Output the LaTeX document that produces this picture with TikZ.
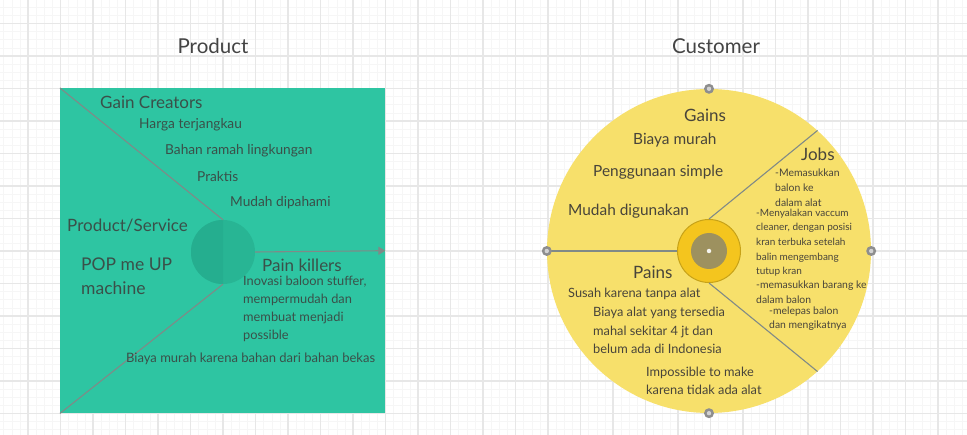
\documentclass[tikz,border=0pt]{standalone}
\usepackage{fontspec}
\setmainfont{Lato}
\usepackage{tikz}
\usetikzlibrary{arrows.meta,positioning,calc}
\definecolor{gridminor}{HTML}{F6F6F6}
\definecolor{gridmajor}{HTML}{E7E7E7}
\definecolor{titlegray}{HTML}{444444}
\definecolor{canvasgreen}{HTML}{2EC5A2}
\definecolor{offercore}{HTML}{28B594}
\definecolor{offerdark}{HTML}{25AE8F}
\definecolor{greentext}{HTML}{3A5049}
\definecolor{linegray}{HTML}{808A87}
\definecolor{custyellow}{HTML}{F7E06B}
\definecolor{ringgold}{HTML}{F4C51E}
\definecolor{ringedge}{HTML}{C7A218}
\definecolor{coreolive}{HTML}{9D915F}
\definecolor{yellowtext}{HTML}{48443A}
\definecolor{handlegray}{HTML}{8E8E8E}
\definecolor{handlecore}{HTML}{D2D2D2}

\begin{document}
\begin{tikzpicture}[x=1pt,y=-1pt,>=Stealth,
  title/.style={font=\fontsize{20.5}{24}\selectfont,text=titlegray},
  head/.style={font=\fontsize{17}{20}\selectfont,inner sep=0pt,anchor=west},
  item/.style={font=\fontsize{12.8}{18}\selectfont,inner sep=0pt,anchor=west},
  itemblock/.style={item,align=left,anchor=base west},
  jobblock/.style={font=\fontsize{10.4}{14.6}\selectfont,inner sep=0pt,align=left,anchor=base west,text=yellowtext},
  link/.style={draw=linegray,line width=1.1pt},
  handle/.style={circle,fill=handlegray,minimum size=10pt,inner sep=0pt,
    path picture={\fill[handlecore] (path picture bounding box.center) circle[radius=2.2pt];}}]
  % canvas grid
  \useasboundingbox (0,0) rectangle (967,435);
  \fill[white] (0,0) rectangle (967,435);
  \foreach \i in {0,...,120} \draw[gridminor,line width=0.5pt] ({-4.5+8.125*\i},0) -- ++(0,435);
  \foreach \j in {0,...,55} \draw[gridminor,line width=0.5pt] (0,{-9+8.125*\j}) -- ++(967,0);
  \foreach \i in {0,...,30} \draw[gridmajor,line width=1.3pt] ({-4.5+32.5*\i},0) -- ++(0,435);
  \foreach \j in {0,...,14} \draw[gridmajor,line width=1.3pt] (0,{-9+32.5*\j}) -- ++(967,0);

  \node[title] (prodtitle) at (213,46) {Product};
  \node[title] (custtitle) at (716,46) {Customer};

  % value map
  \node[fill=canvasgreen,minimum size=325pt,inner sep=0pt,anchor=north west] (canvas) at (60,88) {};
  \node[circle,fill=offercore,minimum size=64pt,inner sep=0pt] (offer) at (223,252) {};
  \begin{scope}
    \clip (offer.north) rectangle ($(offer.south)+(-40,0)$);
    \fill[offerdark] (offer.center) circle[radius=32];
  \end{scope}
  \draw[link] (canvas.north west) -- (offer.north);
  \draw[link] (canvas.south west) -- (offer.south);
  \draw[link,-{Triangle[length=7pt,width=8pt]}] (offer.east) -- (canvas.east);

  \begin{scope}[text=greentext]
    \node[head] (gaincr) at (100,102) {Gain Creators};
    \node[item,font=\fontsize{13.7}{18}\selectfont] (harga) at (139,125) {Harga terjangkau};
    \node[item,font=\fontsize{13.7}{18}\selectfont] (bahan) at (165,151) {Bahan ramah lingkungan};
    \node[item,font=\fontsize{13.7}{18}\selectfont] (praktis) at (197,177) {Praktis};
    \node[item,font=\fontsize{13.7}{18}\selectfont] (mudah) at (230,203) {Mudah dipahami};
    \node[head] (prodsvc) at (67,226) {Product/Service};
    \node[head,align=left,anchor=base west,font=\fontsize{17.5}{24}\selectfont] (popme) at (81,295) {POP me UP\\machine};
    \node[head] (painkill) at (262,265) {Pain killers};
    \node[itemblock] (inovasi) at (243,340) {Inovasi baloon stuffer,\\mempermudah dan\\membuat menjadi\\possible};
    \node[item,font=\fontsize{13}{18}\selectfont] (murahbekas) at (126,359) {Biaya murah karena bahan dari bahan bekas};
  \end{scope}

  % customer profile
  \node[circle,fill=custyellow,minimum size=324pt,inner sep=0pt] (profile) at (709,251) {};
  \node[circle,fill=ringgold,draw=ringedge,line width=1pt,minimum size=63pt,inner sep=0pt] (fit) at (709,251) {};
  \node[circle,fill=coreolive,minimum size=36pt,inner sep=0pt] (core) at (fit) {};
  \node[circle,fill=white!90!coreolive,minimum size=4.5pt,inner sep=0pt] (pin) at (fit) {};
  \draw[link] (profile.west) -- (fit.west);
  \draw[link] (fit.north) -- (profile.48);
  \draw[link] (fit.south) -- (profile.-48);
  \node[handle] (htop) at (profile.north) {};
  \node[handle] (hleft) at (profile.west) {};
  \node[handle] (hright) at (profile.east) {};
  \node[handle] (hbottom) at (profile.south) {};

  \begin{scope}[text=yellowtext]
    \node[head] (gains) at (684,115) {Gains};
    \node[head,font=\fontsize{15.4}{18}\selectfont] (biayamurah) at (633,140) {Biaya murah};
    \node[head,font=\fontsize{15.4}{18}\selectfont] (simple) at (593,172) {Penggunaan simple};
    \node[head,font=\fontsize{15.4}{18}\selectfont] (digunakan) at (568,211) {Mudah digunakan};
    \node[head] (jobs) at (801,154) {Jobs};
    \node[jobblock] (job1) at (775,206.2) {-Memasukkan\\balon ke\\dalam alat};
    \node[jobblock,font=\fontsize{10}{14.7}\selectfont] (job2) at (756,275) {-Menyalakan vaccum\\cleaner, dengan posisi\\kran terbuka setelah\\balin mengembang\\tutup kran};
    \node[jobblock] (job3) at (756,303.3) {-memasukkan barang ke\\dalam balon};
    \node[jobblock,font=\fontsize{10.4}{14}\selectfont] (job4) at (769,329) {-melepas balon\\dan mengikatnya};
    \node[head] (pains) at (633,272) {Pains};
    \node[item] (susah) at (568,294) {Susah karena tanpa alat};
    \node[itemblock,font=\fontsize{12.8}{18.5}\selectfont] (biayaalat) at (593,354) {Biaya alat yang tersedia\\mahal sekitar 4 jt dan\\belum ada di Indonesia};
    \node[itemblock] (impossible) at (646,395) {Impossible to make\\karena tidak ada alat};
  \end{scope}
\end{tikzpicture}
\end{document}
